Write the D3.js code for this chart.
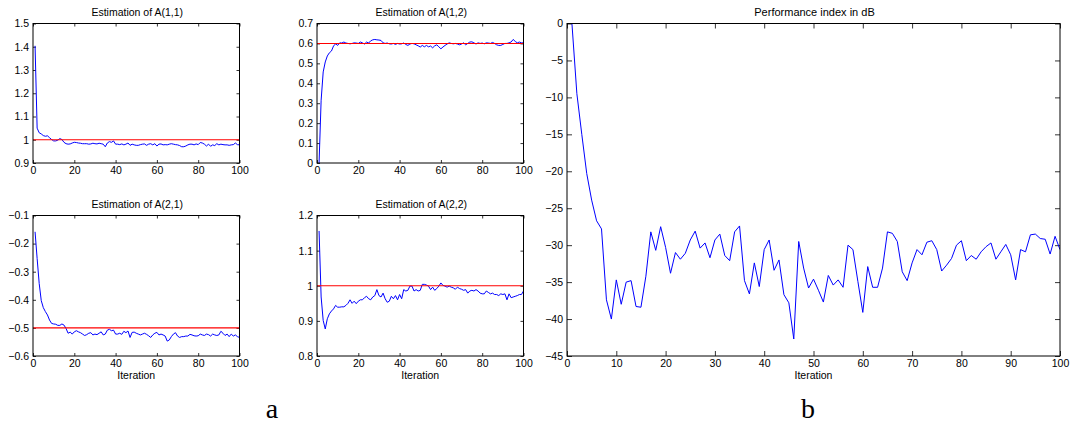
<!DOCTYPE html>
<html><head><meta charset="utf-8">
<script src="https://cdn.jsdelivr.net/npm/d3@7"></script>
<style>
body{margin:0;background:#fff}
svg{display:block}
text{font-family:"Liberation Sans",Arial,Helvetica,sans-serif;fill:#000}
</style>
</head><body>
<svg id="chart" width="1076" height="425"></svg>
<script>
// ---------------- data ----------------
const iterations = d3.range(1, 101);

const a11 = [
 1.404,1.050,1.030,1.025,1.018,1.015,1.017,1.009,1.001,0.995,
 0.995,0.998,1.005,1.001,0.989,0.983,0.981,0.982,0.986,0.989,
 0.988,0.986,0.985,0.983,0.983,0.983,0.981,0.982,0.985,0.983,
 0.982,0.985,0.983,0.981,0.970,0.986,0.992,0.989,0.995,0.981,
 0.981,0.979,0.982,0.978,0.981,0.986,0.976,0.981,0.978,0.976,
 0.976,0.979,0.981,0.982,0.976,0.981,0.983,0.978,0.983,0.973,
 0.981,0.982,0.978,0.979,0.978,0.981,0.983,0.981,0.979,0.978,
 0.975,0.970,0.970,0.973,0.978,0.981,0.981,0.978,0.982,0.979,
 0.988,0.986,0.981,0.973,0.981,0.972,0.978,0.975,0.983,0.978,
 0.981,0.979,0.978,0.978,0.976,0.978,0.979,0.986,0.979,0.978];

const a12 = [
 0.000,0.315,0.457,0.507,0.537,0.553,0.562,0.587,0.598,0.590,
 0.603,0.602,0.607,0.602,0.600,0.598,0.600,0.603,0.602,0.600,
 0.607,0.603,0.597,0.607,0.602,0.613,0.618,0.620,0.618,0.617,
 0.615,0.603,0.600,0.602,0.598,0.597,0.600,0.595,0.600,0.597,
 0.598,0.602,0.595,0.590,0.597,0.600,0.598,0.593,0.588,0.582,
 0.590,0.583,0.590,0.583,0.587,0.578,0.588,0.593,0.583,0.573,
 0.582,0.590,0.597,0.603,0.600,0.598,0.600,0.597,0.593,0.597,
 0.603,0.593,0.600,0.607,0.608,0.603,0.597,0.603,0.600,0.602,
 0.598,0.603,0.602,0.600,0.605,0.600,0.593,0.590,0.590,0.595,
 0.600,0.600,0.603,0.607,0.620,0.610,0.603,0.607,0.603,0.603];

const a21 = [
 -0.158,-0.253,-0.342,-0.403,-0.428,-0.442,-0.454,-0.472,-0.484,-0.486,
 -0.487,-0.491,-0.491,-0.486,-0.490,-0.502,-0.519,-0.515,-0.522,-0.514,
 -0.510,-0.514,-0.517,-0.522,-0.527,-0.524,-0.519,-0.517,-0.525,-0.522,
 -0.524,-0.519,-0.514,-0.525,-0.522,-0.508,-0.505,-0.510,-0.508,-0.522,
 -0.522,-0.519,-0.523,-0.512,-0.517,-0.511,-0.534,-0.516,-0.515,-0.519,
 -0.522,-0.525,-0.522,-0.519,-0.523,-0.528,-0.534,-0.525,-0.519,-0.516,
 -0.525,-0.522,-0.525,-0.529,-0.547,-0.543,-0.531,-0.522,-0.517,-0.529,
 -0.534,-0.531,-0.531,-0.529,-0.529,-0.523,-0.525,-0.528,-0.529,-0.528,
 -0.522,-0.525,-0.527,-0.522,-0.524,-0.529,-0.522,-0.525,-0.527,-0.525,
 -0.512,-0.519,-0.527,-0.522,-0.531,-0.522,-0.529,-0.525,-0.531,-0.534];

const a22 = [
 1.156,0.968,0.901,0.877,0.906,0.920,0.928,0.934,0.944,0.939,
 0.939,0.940,0.940,0.944,0.950,0.960,0.950,0.956,0.949,0.956,
 0.960,0.960,0.966,0.970,0.963,0.960,0.968,0.972,0.989,0.972,
 0.968,0.979,0.963,0.953,0.956,0.970,0.963,0.972,0.960,0.975,
 0.963,0.989,0.985,0.987,0.999,0.999,0.985,0.989,0.985,0.987,
 1.004,1.004,1.002,0.999,0.989,0.996,0.987,0.992,0.999,1.008,
 1.001,0.999,0.996,0.999,0.996,0.994,0.990,0.996,0.992,0.990,
 0.987,0.989,0.979,0.985,0.987,0.985,0.989,0.985,0.979,0.977,
 0.977,0.985,0.981,0.977,0.979,0.975,0.975,0.972,0.977,0.975,
 0.977,0.960,0.977,0.966,0.968,0.970,0.972,0.975,0.975,0.985];

const perfDb = [
 0,-9.5,-15.0,-20.3,-23.9,-26.7,-27.8,-37.4,-40.0,-34.7,
 -38.0,-35.0,-34.8,-38.3,-38.4,-34.2,-28.2,-30.7,-27.5,-30.3,
 -33.8,-31.0,-31.9,-31.1,-29.3,-28.1,-30.4,-29.7,-31.7,-29.3,
 -28.5,-31.4,-32.1,-28.2,-27.4,-34.8,-36.6,-32.4,-35.6,-30.6,
 -29.3,-33.4,-32.0,-36.7,-37.8,-42.7,-29.5,-33.1,-35.8,-34.6,
 -36.1,-37.7,-34.1,-35.4,-34.7,-35.7,-30.0,-30.6,-34.9,-39.1,
 -32.9,-35.7,-35.7,-33.1,-28.2,-28.4,-29.5,-33.6,-34.8,-32.4,
 -30.6,-31.3,-29.6,-29.4,-30.6,-33.5,-32.7,-31.8,-30.0,-29.4,
 -32.1,-31.4,-31.9,-30.9,-30.2,-29.7,-31.9,-30.9,-29.9,-31.3,
 -34.7,-30.6,-30.9,-28.6,-28.5,-29.1,-29.2,-31.2,-28.8,-30.6];

const trueValues = [1, 0.6, -0.5, 1];

const smallXTicks = [0, 20, 40, 60, 80, 100];
const bigXTicks = [0, 10, 20, 30, 40, 50, 60, 70, 80, 90, 100];
const a11YTicks = [0.9, 1, 1.1, 1.2, 1.3, 1.4, 1.5];
const a12YTicks = [0, 0.1, 0.2, 0.3, 0.4, 0.5, 0.6, 0.7];
const a21YTicks = [-0.6, -0.5, -0.4, -0.3, -0.2, -0.1];
const a22YTicks = [0.8, 0.9, 1, 1.1, 1.2];
const perfYTicks = [0, -5, -10, -15, -20, -25, -30, -35, -40, -45];

const titles = ["Estimation of A(1,1)", "Estimation of A(1,2)", "Estimation of A(2,1)",
                "Estimation of A(2,2)", "Performance index in dB"];
const xLabel = "Iteration";
const panelLetters = ["a", "b"];

// ---------------- drawing ----------------
const svg = d3.select("#chart");
const fmt = d3.format("~g");

const panels = [
  {x0:33,  x1:239.5,  y0:23.5,  y1:163, yDom:[0.9,1.5],  yT:a11YTicks, xT:smallXTicks, vals:a11, ref:trueValues[0], title:titles[0], xl:false, tick:3, fs:10.5, tfs:10.5},
  {x0:317, x1:523.5,  y0:23.5,  y1:163, yDom:[0,0.7],    yT:a12YTicks, xT:smallXTicks, vals:a12, ref:trueValues[1], title:titles[1], xl:false, tick:3, fs:10.5, tfs:10.5},
  {x0:33,  x1:239.5,  y0:215.5, y1:356, yDom:[-0.6,-0.1],yT:a21YTicks, xT:smallXTicks, vals:a21, ref:trueValues[2], title:titles[2], xl:true,  tick:3, fs:10.5, tfs:10.5},
  {x0:317, x1:523.5,  y0:215.5, y1:356, yDom:[0.8,1.2],  yT:a22YTicks, xT:smallXTicks, vals:a22, ref:trueValues[3], title:titles[3], xl:true,  tick:3, fs:10.5, tfs:10.5},
  {x0:567, x1:1060,   y0:23.5,  y1:356, yDom:[-45,0],    yT:perfYTicks,xT:bigXTicks,   vals:perfDb, ref:null,        title:titles[4], xl:true,  tick:5, fs:10.5, tfs:11}
];

panels.forEach((p, k) => {
  const x = d3.scaleLinear().domain([0, 100]).range([p.x0, p.x1]);
  const y = d3.scaleLinear().domain(p.yDom).range([p.y1, p.y0]);
  const g = svg.append("g");

  const clipId = "clip" + k;
  svg.append("clipPath").attr("id", clipId).append("rect")
    .attr("x", p.x0).attr("y", p.y0).attr("width", p.x1 - p.x0).attr("height", p.y1 - p.y0);

  // axes (MATLAB style: inward ticks, box)
  const styleAxis = sel => {
    sel.select(".domain").remove();
    sel.selectAll(".tick line").attr("stroke", "#000").attr("stroke-width", 0.8);
    sel.selectAll(".tick text").attr("font-size", p.fs + "px")
       .attr("font-family", '"Liberation Sans", Arial, sans-serif').attr("fill", "#000");
  };
  g.append("g").attr("transform", `translate(0,${p.y1})`)
    .call(d3.axisBottom(x).tickValues(p.xT).tickFormat(fmt).tickSizeInner(-p.tick).tickSizeOuter(0).tickPadding(4))
    .call(styleAxis);
  g.append("g").attr("transform", `translate(0,${p.y0})`)
    .call(d3.axisTop(x).tickValues(p.xT).tickFormat("").tickSizeInner(-p.tick).tickSizeOuter(0))
    .call(styleAxis);
  g.append("g").attr("transform", `translate(${p.x0},0)`)
    .call(d3.axisLeft(y).tickValues(p.yT).tickFormat(fmt).tickSizeInner(-p.tick).tickSizeOuter(0).tickPadding(4))
    .call(styleAxis);
  g.append("g").attr("transform", `translate(${p.x1},0)`)
    .call(d3.axisRight(y).tickValues(p.yT).tickFormat("").tickSizeInner(-p.tick).tickSizeOuter(0))
    .call(styleAxis);

  // data line
  const line = d3.line().x((d, i) => x(iterations[i])).y(d => y(d));
  g.append("path").datum(p.vals)
    .attr("clip-path", `url(#${clipId})`)
    .attr("fill", "none").attr("stroke", "#0000ff").attr("stroke-width", 1)
    .attr("stroke-linejoin", "round").attr("d", line);

  // reference (true value) line
  if (p.ref !== null) {
    g.append("line")
      .attr("x1", x(0)).attr("x2", x(100)).attr("y1", y(p.ref)).attr("y2", y(p.ref))
      .attr("stroke", "#ff0000").attr("stroke-width", 1.1);
  }

  // box
  g.append("rect").attr("x", p.x0).attr("y", p.y0)
    .attr("width", p.x1 - p.x0).attr("height", p.y1 - p.y0)
    .attr("fill", "none").attr("stroke", "#000").attr("stroke-width", 1);

  // title
  g.append("text").attr("x", (p.x0 + p.x1) / 2 + 1).attr("y", p.y0 - 7.5)
    .attr("text-anchor", "middle").attr("font-size", p.tfs + "px").text(p.title);

  if (p.xl) {
    g.append("text").attr("x", (p.x0 + p.x1) / 2).attr("y", p.y1 + 22.5)
      .attr("text-anchor", "middle").attr("font-size", p.fs + "px").text(xLabel);
  }
});

// panel letters
svg.append("text").attr("x", 272).attr("y", 418).attr("text-anchor", "middle")
  .style("font-family", '"Liberation Serif", "Times New Roman", serif').attr("font-size", "28px").text(panelLetters[0]);
svg.append("text").attr("x", 808).attr("y", 418).attr("text-anchor", "middle")
  .style("font-family", '"Liberation Serif", "Times New Roman", serif').attr("font-size", "28px").text(panelLetters[1]);
</script>
</body></html>
